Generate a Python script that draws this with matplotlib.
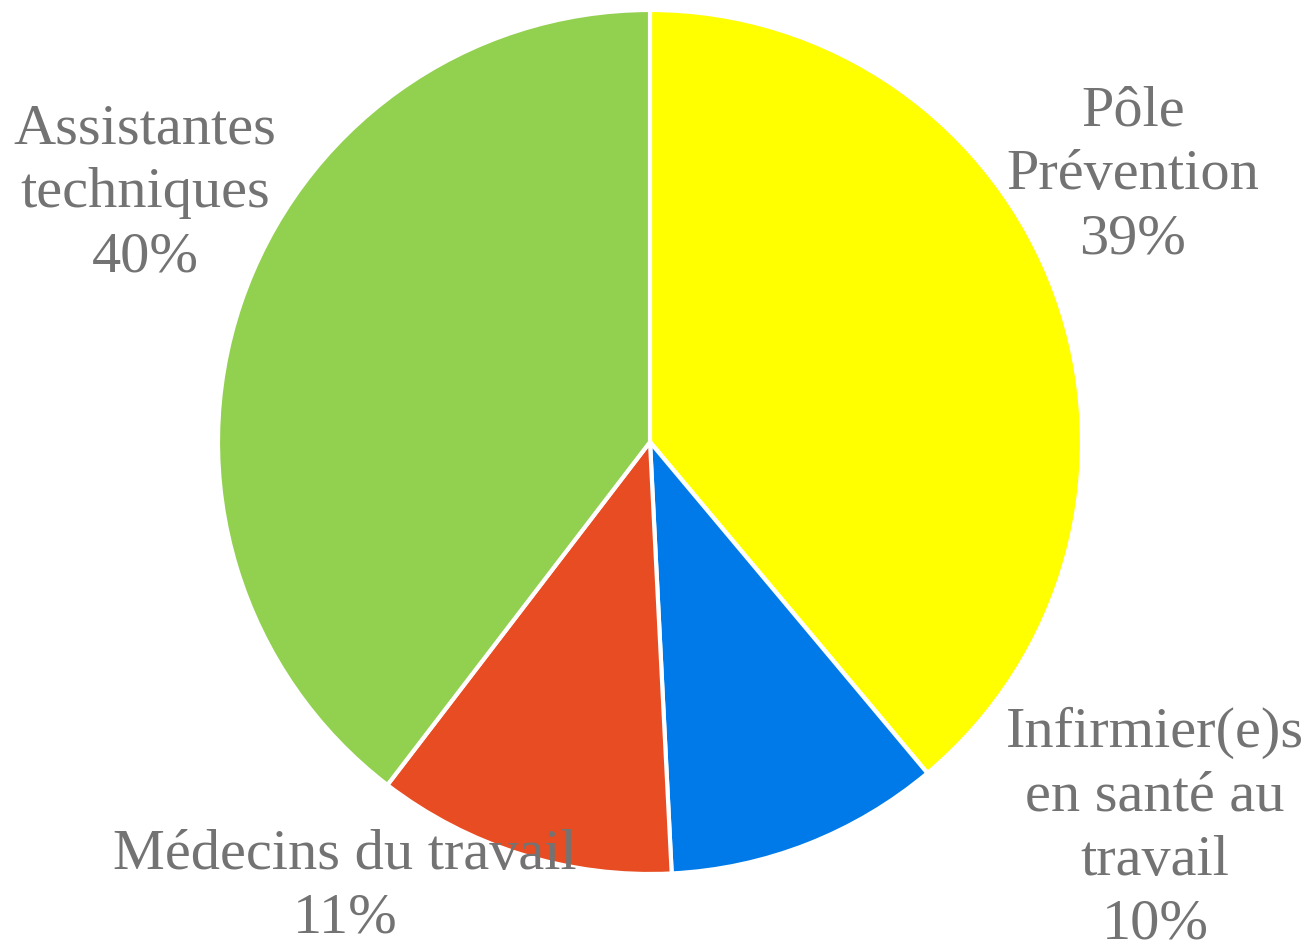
import matplotlib.pyplot as plt

labels = ['Pôle\nPrévention', 'Infirmier(e)s\nen santé au\ntravail', 'Médecins du travail', 'Assistantes\ntechniques']
values = [38.9, 10.3, 11.2, 39.6]
colors = ['#FFFF00', '#007AE8', '#E84C22', '#92D050']
# label centres in data units (pie radius = 1)
label_pos = [(1.118, 0.618), (1.169, -0.895), (-0.706, -1.030), (-1.169, 0.576)]

fig = plt.figure(figsize=(13.1, 9.49), dpi=100)
ax = fig.add_axes([0, 0, 1, 1])

total = sum(values)
ax.pie(values, colors=colors, startangle=90, counterclock=False, radius=1,
       wedgeprops=dict(edgecolor='white', linewidth=3))

for lab, v, (x, y) in zip(labels, values, label_pos):
    ax.text(x, y, lab + '\n' + str(round(v / total * 100)) + '%', ha='center', va='center',
            multialignment='center', fontsize=42, family='Liberation Serif',
            color='#737373', linespacing=1.3)

r = 432.0
ax.set_xlim(-650 / r, (1310 - 650) / r)
ax.set_ylim(-(949 - 442) / r, 442 / r)
ax.set_aspect('equal')
ax.set_axis_off()

fig.savefig('out.png', dpi=100)
